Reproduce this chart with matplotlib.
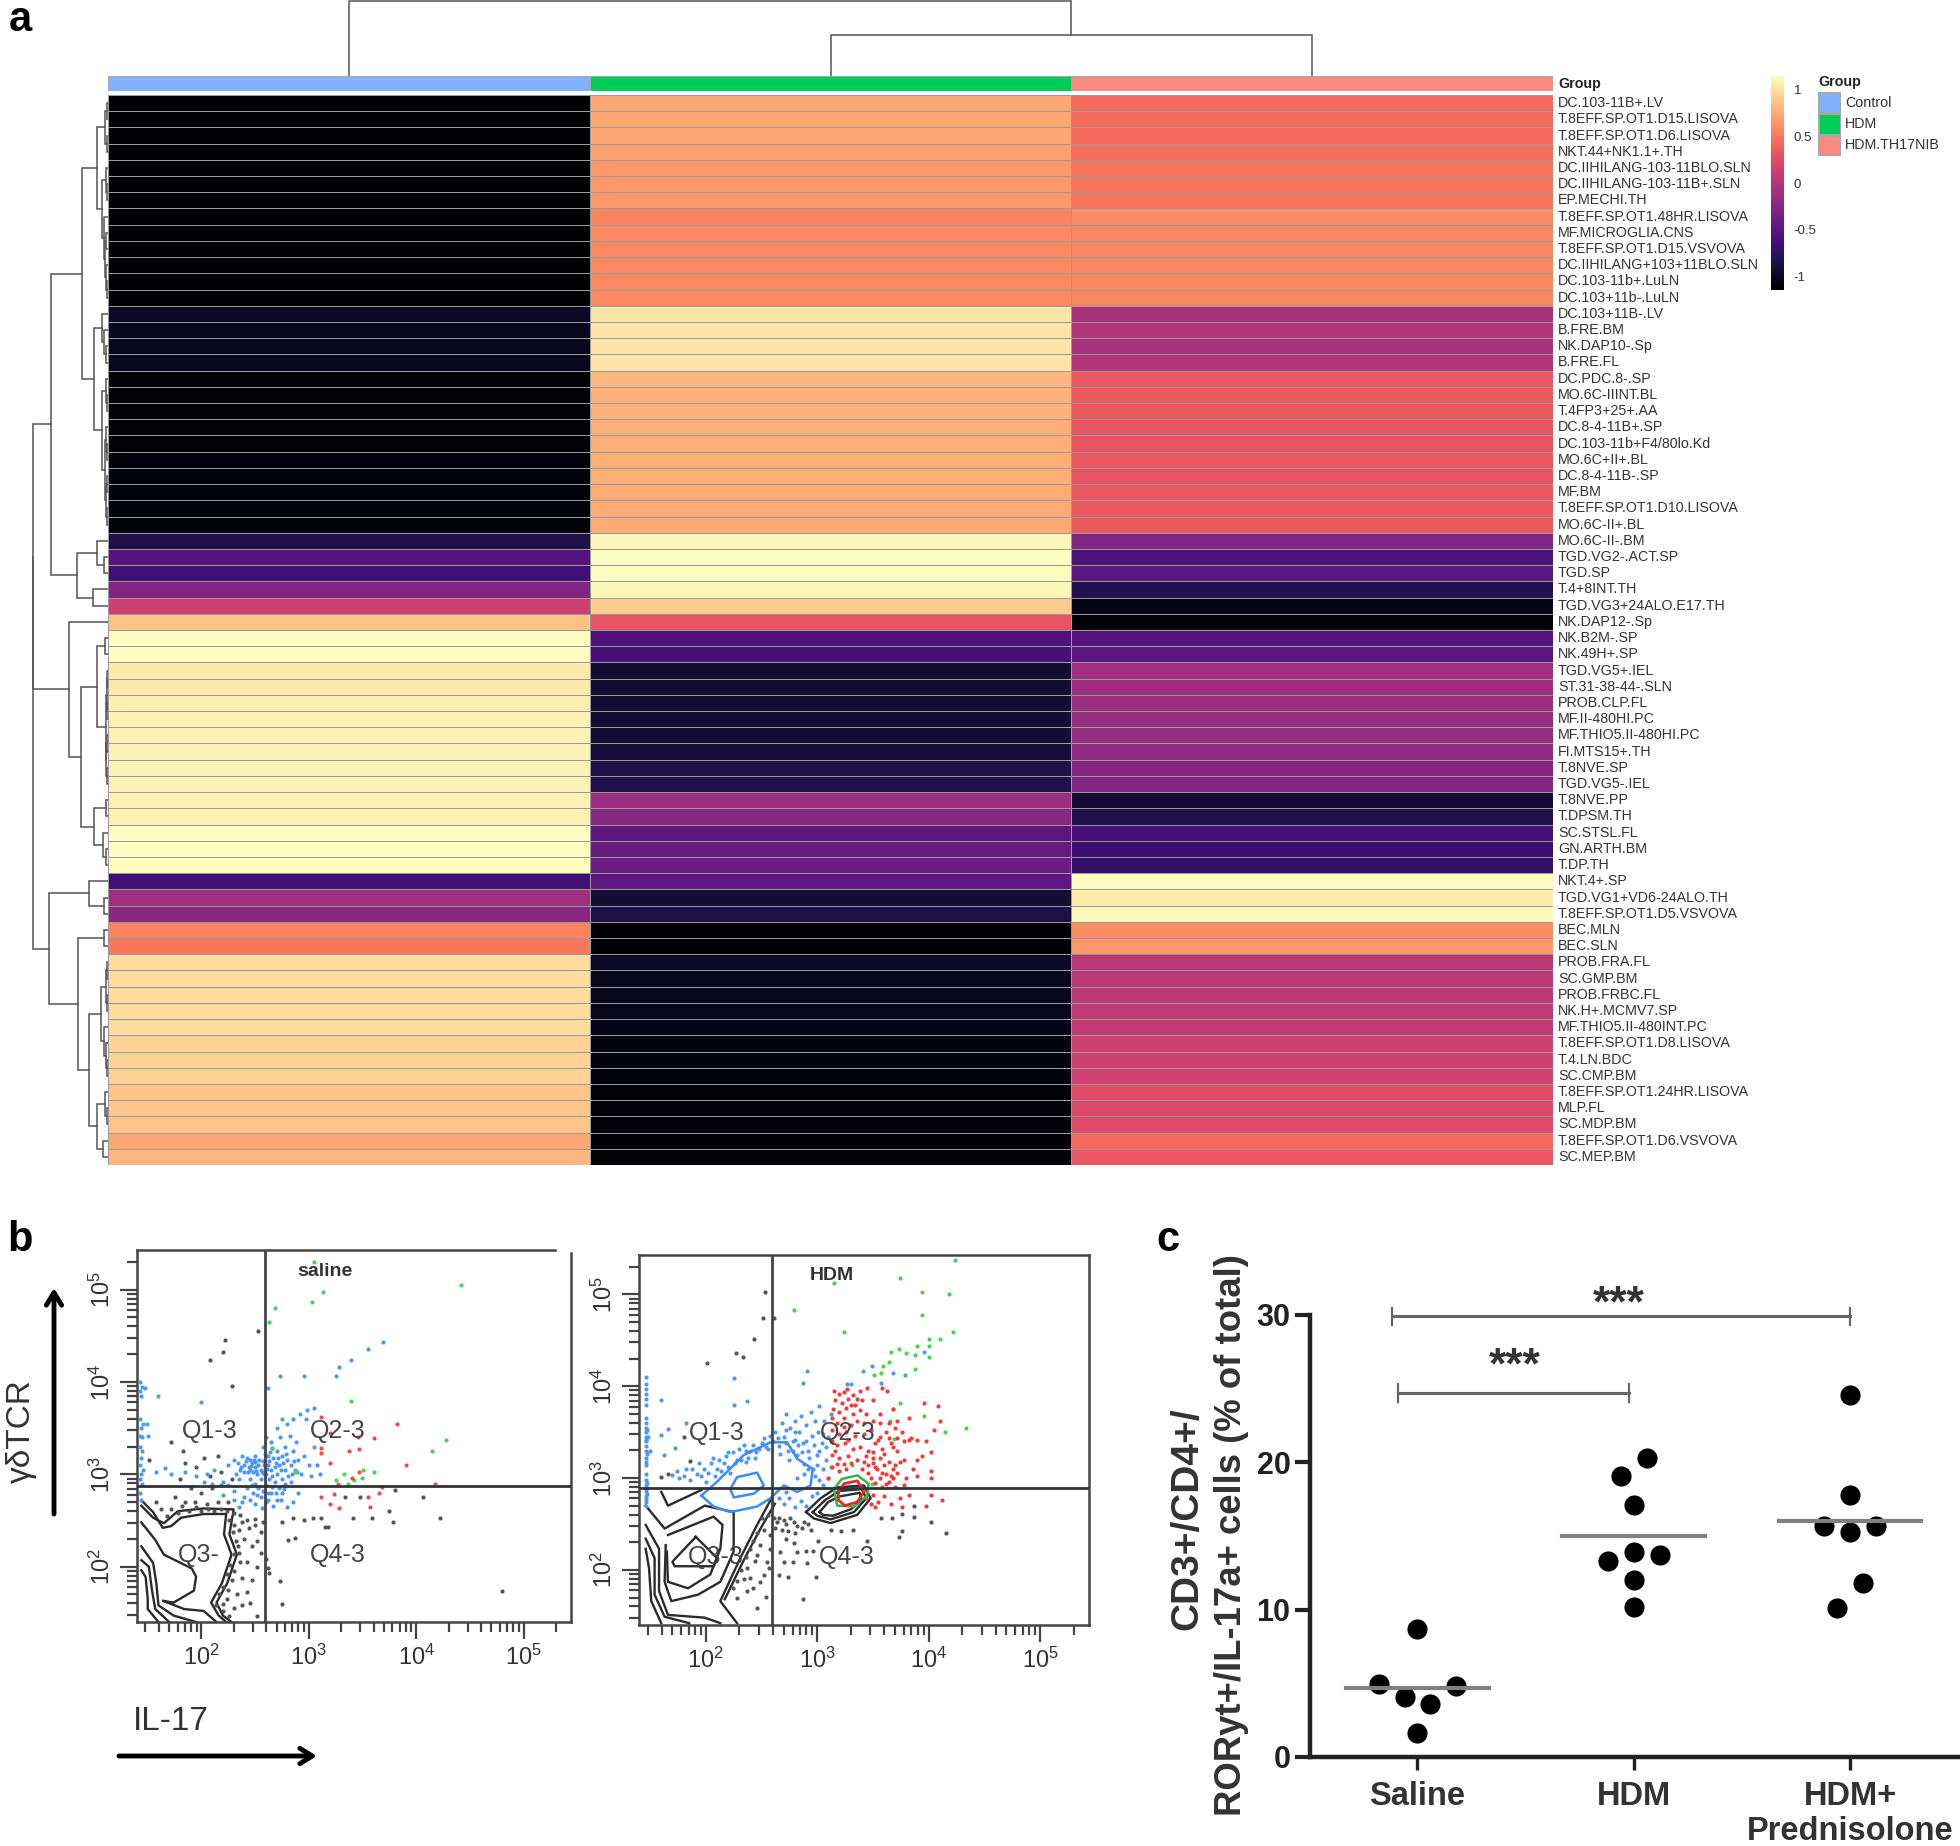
import numpy as np
import matplotlib
matplotlib.use("Agg")
import matplotlib.pyplot as plt
from matplotlib.colors import ListedColormap

plt.rcParams['font.family'] = ['Liberation Sans', 'DejaVu Sans']

W, H = 1960, 1846

# ---- panel a data ----
row_names = ["DC.103-11B+.LV", "T.8EFF.SP.OT1.D15.LISOVA", "T.8EFF.SP.OT1.D6.LISOVA", "NKT.44+NK1.1+.TH",
             "DC.IIHILANG-103-11BLO.SLN", "DC.IIHILANG-103-11B+.SLN", "EP.MECHI.TH", "T.8EFF.SP.OT1.48HR.LISOVA",
             "MF.MICROGLIA.CNS", "T.8EFF.SP.OT1.D15.VSVOVA", "DC.IIHILANG+103+11BLO.SLN", "DC.103-11b+.LuLN",
             "DC.103+11b-.LuLN", "DC.103+11B-.LV", "B.FRE.BM", "NK.DAP10-.Sp", "B.FRE.FL", "DC.PDC.8-.SP",
             "MO.6C-IIINT.BL", "T.4FP3+25+.AA", "DC.8-4-11B+.SP", "DC.103-11b+F4/80lo.Kd", "MO.6C+II+.BL",
             "DC.8-4-11B-.SP", "MF.BM", "T.8EFF.SP.OT1.D10.LISOVA", "MO.6C-II+.BL", "MO.6C-II-.BM",
             "TGD.VG2-.ACT.SP", "TGD.SP", "T.4+8INT.TH", "TGD.VG3+24ALO.E17.TH", "NK.DAP12-.Sp", "NK.B2M-.SP",
             "NK.49H+.SP", "TGD.VG5+.IEL", "ST.31-38-44-.SLN", "PROB.CLP.FL", "MF.II-480HI.PC",
             "MF.THIO5.II-480HI.PC", "FI.MTS15+.TH", "T.8NVE.SP", "TGD.VG5-.IEL", "T.8NVE.PP", "T.DPSM.TH",
             "SC.STSL.FL", "GN.ARTH.BM", "T.DP.TH", "NKT.4+.SP", "TGD.VG1+VD6-24ALO.TH",
             "T.8EFF.SP.OT1.D5.VSVOVA", "BEC.MLN", "BEC.SLN", "PROB.FRA.FL", "SC.GMP.BM", "PROB.FRBC.FL",
             "NK.H+.MCMV7.SP", "MF.THIO5.II-480INT.PC", "T.8EFF.SP.OT1.D8.LISOVA", "T.4.LN.BDC", "SC.CMP.BM",
             "T.8EFF.SP.OT1.24HR.LISOVA", "MLP.FL", "SC.MDP.BM", "T.8EFF.SP.OT1.D6.VSVOVA", "SC.MEP.BM"]

control = [-1.15, -1.15, -1.15, -1.15, -1.15, -1.15, -1.15, -1.15, -1.15, -1.15, -1.15, -1.15, -1.15,
           -0.98, -1.03, -1.03, -1.02, -1.12, -1.12, -1.12, -1.12, -1.12, -1.1, -1.1, -1.1, -1.1, -1.1,
           -0.85, -0.55, -0.65, -0.3, 0.12, 0.85, 1.15, 1.15, 1.05, 1.05, 1.07, 1.08, 1.08, 1.1, 1.1, 1.1,
           1.08, 1.08, 1.15, 1.15, 1.15, -0.65, -0.12, -0.25, 0.55, 0.5, 0.98, 0.98, 0.98, 0.98, 0.98,
           0.93, 0.93, 0.93, 0.87, 0.88, 0.87, 0.72, 0.8]
hdm = [0.72, 0.72, 0.72, 0.7, 0.65, 0.65, 0.65, 0.55, 0.58, 0.58, 0.58, 0.58, 0.58,
       1.03, 1.03, 1.03, 1.03, 0.8, 0.78, 0.78, 0.76, 0.76, 0.76, 0.76, 0.74, 0.74, 0.74,
       1.12, 1.15, 1.15, 1.12, 0.9, 0.3, -0.6, -0.62, -0.93, -0.93, -0.93, -0.92, -0.92, -0.9, -0.85, -0.85,
       -0.15, -0.25, -0.52, -0.45, -0.42, -0.5, -0.92, -0.87, -1.15, -1.15, -1.0, -1.02, -1.02, -1.03, -1.05,
       -1.07, -1.07, -1.08, -1.12, -1.1, -1.11, -1.15, -1.13]
th17nib = [0.43, 0.43, 0.43, 0.45, 0.5, 0.5, 0.5, 0.6, 0.57, 0.57, 0.57, 0.57, 0.57,
           -0.08, -0.02, -0.07, -0.02, 0.32, 0.34, 0.34, 0.3, 0.3, 0.32, 0.3, 0.32, 0.34, 0.34,
           -0.3, -0.6, -0.52, -0.82, -1.05, -1.13, -0.55, -0.52, -0.12, -0.13, -0.14, -0.18, -0.18, -0.2, -0.27, -0.3,
           -0.92, -0.85, -0.62, -0.7, -0.73, 1.15, 1.06, 1.13, 0.6, 0.65, 0.02, 0.04, 0.04, 0.05, 0.07,
           0.14, 0.14, 0.15, 0.25, 0.22, 0.24, 0.43, 0.33]

group_names = ["Control", "HDM", "HDM.TH17NIB"]
group_colors = ["#7fb2ff", "#00cc58", "#fd8a82"]
cbar_ticks = [-1, -0.5, 0, 0.5, 1]

# merge trees: (height in px, child, child), leaves are 1-based row numbers
upper_tree = (56.7,
              (25.7,
               (10.7, (3.3, (1.5, 1, 2), (1.5, 3, 4)),
                (6, (2.3, 5, (1.5, 6, 7)), (4.3, 8, (3, (2.5, 9, 10), (2.5, 11, (1.5, 12, 13)))))),
               (13.7, (5.7, 14, (3.7, 15, (2, 16, 17))),
                (6, (2.5, 18, (1.5, 19, 20)), (3, (2, 21, (1.2, 22, 23)), (2.5, (1.5, 24, 25), (1.5, 26, 27)))))),
              (31, (10.7, 28, (4.3, 29, 30)), (15, 31, 32)))
mid_tree = (39, 33,
            (26.7,
             (10.7, (3.3, 34, 35),
              (2.5, (1.5, (1, 36, 37), (1, 38, 39)), (2, (1, 40, 41), (1.2, 42, 43)))),
             (13.7, (2.3, 44, 45), (5, 46, (2.3, 47, 48)))))
lower_tree = (59.3,
              (19.3, 49, (4.3, 50, 51)),
              (29.7, (4.3, 52, 53),
               (19.3,
                (7.3, (2.3, (1.5, 54, 55), (1.5, 56, 57)), (3.7, 58, (2, 59, (1.2, 60, 61)))),
                (10.7, (3, 62, (1.5, 63, 64)), (5, 65, 66)))))
row_tree = (75.5, (75, upper_tree, mid_tree), lower_tree)
col_tree = (75, 1, (41, 2, 3))

# ---- panel b data, (log10 IL-17, log10 gdTCR) ----
sal_blue = [(1.43,4.0),(1.45,3.95),(1.43,3.9),(1.47,3.93),(1.44,3.85),(1.43,3.6),(1.46,3.55),(1.44,3.5),(1.49,3.55),
            (1.43,3.42),(1.45,3.4),(1.5,3.42),(1.43,3.3),(1.45,3.25),(1.44,3.18),(1.43,3.1),(1.46,3.05),(1.44,3.0),
            (1.43,2.95),(1.45,2.9),(1.43,2.8),(1.44,2.72),(1.6,3.85),(2.0,3.78),(1.66,3.07),(1.58,3.03),(1.72,3.0),
            (1.85,3.02),(1.95,2.98),(2.05,3.0),(2.12,3.05),(2.2,2.92),(2.25,3.1),(2.3,3.15),(2.32,3.0),(2.35,2.95),
            (2.38,3.2),(2.4,3.1),(2.4,3.02),(2.42,3.18),(2.45,3.15),(2.45,3.05),(2.45,2.95),(2.47,3.12),(2.48,3.02),
            (2.5,3.2),(2.5,3.08),(2.5,2.9),(2.52,3.0),(2.54,3.15),(2.55,3.05),(2.55,2.95),(2.57,3.3),(2.58,3.1),
            (2.6,3.0),(2.6,3.4),(2.62,3.2),(2.62,3.1),(2.63,2.95),(2.65,3.35),(2.65,3.05),(2.67,3.18),(2.68,2.92),
            (2.7,3.5),(2.7,3.25),(2.7,3.0),(2.72,3.1),(2.73,3.4),(2.75,3.6),(2.75,3.2),(2.75,2.95),(2.78,3.3),
            (2.78,3.05),(2.8,3.15),(2.8,3.55),(2.82,3.42),(2.83,2.92),(2.85,3.25),(2.85,3.6),(2.87,3.05),(2.88,3.35),
            (2.9,3.15),(2.9,2.8),(2.92,3.65),(2.93,3.0),(2.95,3.2),(2.97,3.6),(2.98,3.7),(3.0,3.1),(3.02,2.98),
            (3.05,3.72),(3.05,3.3),(3.08,3.1),(3.1,3.0),(2.48,2.8),(2.55,2.75),(2.6,2.7),(2.65,2.8),(2.7,2.72),
            (2.75,2.8),(2.8,2.65),(2.85,2.7),(2.4,2.75),(2.3,2.82),(2.2,2.78),(2.35,2.65),(2.62,3.94),(2.73,4.06),
            (2.95,4.06),(3.25,4.06),(3.28,4.16),(3.39,4.24),(3.55,4.36),(3.69,4.43),(2.58,3.0),(2.44,3.08),(2.36,3.05),
            (2.68,3.08),(2.6,2.88),(2.72,2.85),(2.42,2.85),(2.52,2.78),(2.66,3.28),(2.78,2.9),(2.84,3.0),(2.5,3.13),
            (2.34,3.12),(2.37,3.08),(2.41,3.14),(2.43,3.02),(2.46,3.09),(2.49,3.16),(2.51,3.04),(2.53,3.1),(2.56,3.02),
            (2.57,3.14),(2.59,3.22),(2.61,3.06),(2.63,3.14),(2.64,3.24),(2.66,2.98),(2.69,3.12),(2.71,3.18),(2.74,3.05),
            (2.76,3.12),(2.79,3.22),(2.81,2.98),(2.83,3.1),(2.86,3.14),(2.89,3.02),(2.47,2.88),(2.53,2.85),(2.57,2.82),
            (2.62,2.8),(2.66,2.86),(2.69,2.8),(2.74,2.72),(2.77,2.84),(2.3,2.72),(2.38,2.7),(2.45,2.72),(2.5,2.68),
            (2.56,2.64),(2.62,2.72),(2.67,2.66),(2.25,2.88),(2.18,2.88),(2.1,2.9),(2.02,2.92)]
sal_green = [(4.42,5.05),(3.13,4.97),(3.03,4.87),(3.05,5.3),(2.68,4.8),(2.63,4.65),(3.39,3.79),(4.28,3.37),(4.15,3.25),
             (3.61,3.02),(3.5,3.05),(3.49,2.96),(3.42,2.94),(3.33,3.0),(3.25,2.94),(3.36,2.89),(2.87,3.02),(2.66,3.29)]
sal_red = [(3.11,3.62),(3.2,3.45),(3.82,3.54),(3.61,3.39),(3.46,3.4),(3.47,3.27),(3.37,3.25),(3.11,3.23),(3.11,3.29),
           (3.2,3.12),(3.9,3.1),(3.47,3.02),(3.4,2.96),(4.17,2.89),(3.27,2.89),(3.68,2.86),(3.65,2.8),(3.55,2.75),
           (3.57,2.65),(3.28,2.64),(3.2,2.68),(3.23,2.79),(3.11,2.75)]
sal_black = [(2.53,4.55),(2.22,4.46),(2.2,4.33),(2.08,4.24),(2.28,3.96),(1.72,3.35),(1.83,3.25),(1.51,3.15),(4.8,1.74),
             (4.22,2.53),(4.06,2.75),(3.8,2.83),(3.78,2.48),(3.75,2.6),(3.59,2.53),(3.41,2.53),(3.48,2.75),(3.34,2.75),
             (3.18,2.43),(3.15,2.43),(3.11,2.53),(3.04,2.53),(2.95,2.5),(2.85,2.53),(2.75,2.48),(2.87,2.31),(2.81,2.29),
             (2.75,1.59),(2.73,1.84),(2.63,1.93),(2.52,1.47),(2.45,1.61),(2.3,2.45),(2.35,2.4),(2.42,2.5),(2.5,2.45),
             (2.55,2.38),(2.4,2.3),(2.47,2.22),(2.55,2.15),(2.35,2.15),(2.42,2.05),(2.52,2.0),(2.3,1.95),(2.38,1.88),
             (2.47,1.85),(2.25,1.75),(2.33,1.7),(2.42,1.72),(2.2,1.6),(2.3,1.55),(2.38,1.58),(2.6,2.08),(2.62,1.98),
             (1.85,3.12),(1.95,3.08),(2.02,3.18),(2.08,2.98),(2.15,3.2),(2.18,3.02),(2.28,2.95),(1.8,2.95),(1.9,2.85),
             (2.0,2.8),(2.1,2.85),(2.15,2.7),(2.25,2.7),(1.75,2.75),(1.85,2.7),(1.95,2.65),(2.05,2.68),
             (1.58,2.7),(1.62,2.62),(1.68,2.55),(1.72,2.62),(1.78,2.58),(1.82,2.66),(1.88,2.6),(1.94,2.7),(2.0,2.6),
             (2.06,2.62),(2.12,2.6),(2.18,2.62),(2.24,2.6),(2.3,2.58),(2.36,2.56),(2.26,2.5),(2.29,2.38),(2.32,2.28),
             (2.34,2.22),(2.3,2.14),(2.36,2.05),(2.27,2.02),(2.24,1.92),(2.28,1.85),(2.2,1.78),(2.16,1.7),(2.24,1.65),
             (2.14,1.58),(2.2,1.52),(2.26,1.46),(2.44,2.42),(2.38,2.48),(2.5,2.52),(2.57,2.48),(2.52,2.28)]

sal_contours = [[(1.44,2.72),(1.55,2.59),(1.64,2.42),(1.72,2.44),(1.81,2.53),(2.02,2.57),(2.23,2.57),(2.21,2.35),
                 (2.28,2.13),(2.19,1.82),(2.09,1.61),(2.16,1.47),(2.23,1.40)],
                [(1.44,2.66),(1.55,2.53),(1.65,2.47),(1.78,2.6),(2.02,2.63),(2.3,2.62),(2.26,2.35),(2.33,2.13),
                 (2.24,1.82),(2.14,1.61),(2.2,1.47),(2.28,1.40)],
                [(1.44,2.48),(1.57,2.29),(1.65,2.13),(1.91,1.98),(1.95,1.89),(1.93,1.74),(1.74,1.61),(1.64,1.63),
                 (1.84,1.54),(2.02,1.52),(2.14,1.40)],
                [(1.44,2.22),(1.55,2.04),(1.58,1.82),(1.6,1.58),(1.74,1.47),(1.95,1.40)],
                [(1.44,2.07),(1.51,2.0),(1.54,1.74),(1.57,1.54),(1.7,1.4)],
                [(1.44,1.96),(1.48,1.89),(1.5,1.65),(1.5,1.54),(1.6,1.4)]]

hdm_blue = [(1.46,4.1),(1.46,4.03),(1.46,3.97),(1.46,3.92),(1.46,3.86),(1.46,3.8),(1.46,3.66),(1.46,3.6),(1.46,3.55),
            (1.46,3.5),(1.46,3.45),(1.46,3.4),(1.46,3.35),(1.46,3.3),(1.46,3.22),(1.46,3.14),(1.46,3.05),(1.46,2.98),
            (1.46,2.92),(1.46,2.86),(1.46,2.8),(1.46,2.74),(1.48,3.45),(1.5,3.3),
            (2.25,4.09),(2.25,3.8),(2.37,3.84),(1.6,3.85),(1.82,3.6),(1.66,3.53),(1.6,3.47),(1.72,3.33),(1.62,3.25),
            (1.7,3.03),(1.76,3.0),(1.82,3.1),(1.86,2.98),(1.92,3.04),(1.98,3.1),(2.0,2.96),(2.05,3.16),(2.08,3.02),
            (2.12,3.2),(2.14,3.08),(2.18,3.24),(2.2,3.12),(2.24,3.28),(2.26,3.16),(2.3,3.32),(2.32,3.2),(2.36,3.3),
            (2.38,3.22),(2.42,3.36),(2.45,3.28),(2.5,3.38),(2.54,3.34),(2.6,3.4),(2.62,3.5),(2.66,3.35),(2.68,3.6),
            (2.7,3.45),(2.72,3.7),(2.74,3.3),(2.76,3.55),(2.78,3.4),(2.8,3.62),(2.82,3.25),(2.84,3.5),(2.85,3.68),
            (2.87,3.38),(2.88,3.15),(2.9,3.58),(2.92,3.3),(2.94,3.72),(2.95,3.46),(2.96,3.1),(2.98,3.62),(3.0,3.25),
            (3.01,3.5),(3.02,3.78),(3.04,3.38),(3.05,3.1),(3.06,3.62),(3.08,3.2),(3.1,3.45),(3.1,3.0),(3.12,3.7),
            (2.82,3.0),(2.88,3.05),(2.92,3.1),(2.98,3.02),(3.02,2.98),(3.05,2.92),(2.7,2.72),(2.75,2.78),(2.8,2.68),
            (2.85,2.75),(2.9,2.7),(2.95,2.8),(2.66,2.78),(2.72,2.85),(3.0,2.84),(2.91,4.17),(2.87,4.04),(3.3,4.03),
            (3.41,4.17),(3.49,4.22),(3.68,4.15),(3.79,4.12),(3.57,4.04),(3.96,4.37),(3.27,4.02),(2.72,3.52),(2.8,3.5),
            (1.74,3.08),(1.8,3.02),(1.88,3.1),(1.94,3.16),(1.96,3.02),(2.02,3.06),(2.06,3.22),(2.1,3.1),(2.16,3.16),
            (2.2,3.28),(2.22,3.06),(2.28,3.2),(2.34,3.36),(2.36,3.18),(2.4,3.3),(2.44,3.22),(2.48,3.32),(2.52,3.44),
            (2.56,3.32),(2.58,3.46),(2.65,3.44),(2.67,3.26),(2.72,3.38),(2.75,3.2),(2.78,3.3),(2.8,3.42),(2.83,3.36),
            (2.86,3.28),(2.9,3.4),(2.93,3.22),(2.97,3.36),(3.0,3.14),(3.02,3.3),(3.05,3.48),(3.08,3.34),(3.12,3.12),
            (1.46,2.7),(1.46,2.77),(1.47,2.83),(1.47,2.89),(1.47,2.95),(1.46,3.18),(1.47,3.26),(1.46,3.42),(1.47,3.52)]
hdm_green = [(3.15,5.13),(3.74,5.18),(4.24,5.38),(3.94,5.03),(4.18,5.01),(2.79,4.83),(3.24,4.59),(3.94,4.78),(4.22,4.59),
             (4.1,4.52),(4.0,4.52),(4.0,4.44),(3.9,4.44),(3.73,4.41),(3.66,4.37),(3.8,4.36),(3.88,4.34),(4.0,4.32),
             (3.64,4.27),(3.59,4.22),(3.88,4.19),(3.57,4.15),(3.51,4.12),(3.74,3.82),(3.68,3.75),(3.96,3.68),(3.65,3.62),
             (4.34,3.55),(4.15,3.5),(3.69,3.43),(3.31,3.14),(3.49,2.94)]
hdm_red = [(3.15,3.95),(3.2,3.92),(3.27,3.97),(3.32,3.9),(3.38,3.95),(3.45,3.98),(3.16,3.85),(3.22,3.82),(3.28,3.86),
           (3.34,3.8),(3.4,3.85),(3.5,3.85),(3.58,3.98),(3.63,3.95),(3.14,3.75),(3.2,3.72),(3.26,3.76),(3.32,3.7),
           (3.38,3.74),(3.44,3.7),(3.56,3.7),(3.68,3.75),(3.96,3.82),(4.08,3.78),(3.13,3.65),(3.18,3.6),(3.24,3.65),
           (3.3,3.58),(3.36,3.62),(3.5,3.62),(3.56,3.6),(3.64,3.6),(3.72,3.62),(3.82,3.66),(4.1,3.62),(4.05,3.52),
           (3.13,3.52),(3.2,3.48),(3.26,3.5),(3.34,3.46),(3.42,3.48),(3.48,3.52),(3.56,3.45),(3.62,3.5),(3.7,3.55),
           (3.76,3.5),(3.82,3.42),(3.9,3.42),(3.98,3.4),(3.13,3.4),(3.18,3.36),(3.25,3.38),(3.32,3.32),(3.38,3.34),
           (3.46,3.3),(3.52,3.38),(3.58,3.32),(3.66,3.38),(3.72,3.3),(3.78,3.4),(4.02,3.28),(3.94,3.24),(3.9,3.2),
           (3.13,3.25),(3.2,3.22),(3.28,3.24),(3.36,3.2),(3.44,3.24),(3.5,3.16),(3.56,3.22),(3.64,3.18),(3.7,3.14),
           (3.78,3.2),(3.86,3.1),(4.02,3.08),(3.13,3.12),(3.2,3.08),(3.26,3.1),(3.4,3.1),(3.46,3.06),(3.52,3.12),
           (3.58,3.06),(3.66,3.02),(3.72,3.06),(3.8,3.0),(3.9,3.02),(4.02,3.0),(3.52,2.95),(3.58,2.9),(3.64,2.96),
           (3.7,2.9),(3.78,2.92),(3.5,2.82),(3.55,2.74),(3.6,2.8),(3.66,2.72),(3.74,2.78),(3.76,2.68),(3.82,2.82),
           (3.98,2.7),(4.02,2.82),(4.12,2.76),(3.48,2.72),(3.52,2.68),(3.44,2.78),(3.1,3.0),(3.18,3.15),(3.68,3.34),
           (3.42,3.18),(3.46,3.14),(3.5,3.22),(3.54,3.1),(3.6,3.14),(3.62,3.04),(3.68,3.1),(3.74,3.18),(3.48,3.0),
           (3.56,3.0),(3.62,2.94),(3.68,3.0),(3.5,3.28),(3.6,3.26),(3.55,3.42),(3.64,3.44),(3.72,3.44),(3.84,3.44),
           (3.24,3.94),(3.3,3.8),(3.36,3.86),(3.24,3.56),(3.42,3.6),(3.28,3.42),(3.16,3.3),(3.24,3.15),(3.3,3.16)]
hdm_black = [(2.53,5.03),(2.51,4.74),(2.61,4.74),(2.43,4.52),(2.27,4.36),(2.33,4.32),(2.01,4.25),(1.8,3.45),(1.86,3.19),
             (1.66,3.05),(1.6,3.01),(4.16,2.4),(4.02,2.52),(3.87,2.58),(3.87,2.7),(3.76,2.61),(3.76,2.42),(3.73,2.36),
             (3.67,2.56),(3.57,2.56),(3.45,2.31),(3.32,2.44),(3.21,2.42),(3.12,2.43),(3.01,2.32),(2.94,2.43),(2.88,2.52),
             (2.79,2.52),(2.7,2.54),(2.64,2.52),(2.79,2.29),(2.9,2.21),(2.96,2.21),(2.82,2.2),(2.67,2.2),(2.7,2.09),
             (2.78,2.09),(2.91,2.07),(2.66,1.95),(2.74,1.92),(2.99,1.92),(2.87,1.68),(2.52,1.95),(2.49,1.87),(2.54,1.71),
             (2.46,1.58),(2.4,1.91),(2.37,2.02),(2.46,2.16),(2.55,2.09),(2.49,2.27),(2.58,2.38),(2.61,2.56),(2.52,2.43),
             (2.4,2.23),(2.37,1.77),(2.28,1.69),(2.57,2.02),(2.58,2.23),
             (2.66,2.56),(2.72,2.5),(2.76,2.56),(2.82,2.48),(2.86,2.46),(2.92,2.5),(2.68,2.44),(2.74,2.42),(2.8,2.4),
             (2.72,2.34),(2.62,2.46),(2.56,2.6),(2.5,2.56),(2.46,2.4),(2.42,2.32),(2.44,2.1),(2.36,2.14),(2.32,2.0),
             (2.28,1.88),(2.24,1.8),(2.42,1.8),(2.34,1.9)]

hdm_contours_black = [[(2.59,2.78),(2.46,2.49),(2.31,2.13),(2.13,1.66),(2.28,1.42)],
                      [(2.62,2.72),(2.5,2.47),(2.35,2.13),(2.17,1.68)],
                      [(1.6,2.85),(1.66,2.7),(1.96,2.87)],
                      [(1.46,2.7),(1.63,2.45),(1.99,2.7),(2.25,2.63),(2.25,2.2),(2.13,1.87),(1.93,1.73),(1.69,1.66),
                       (1.63,1.87),(1.64,2.27)],
                      [(1.66,2.38),(2.07,2.58),(2.15,2.49),(2.13,2.23),(2.04,1.95),(1.84,1.8),(1.66,1.87),(1.65,2.2)],
                      [(1.91,2.36),(1.7,2.09),(1.72,2.04),(2.07,2.04),(2.1,2.13),(1.91,2.36)],
                      [(1.46,2.49),(1.58,2.23),(1.58,1.77),(1.66,1.51),(1.99,1.48),(2.13,1.42)],
                      [(1.46,2.34),(1.54,2.13),(1.54,1.73),(1.63,1.49),(1.85,1.42)],
                      [(1.46,2.23),(1.49,2.02),(1.51,1.66),(1.6,1.42)],
                      [(2.9,2.63),(3.03,2.78),(3.18,2.9),(3.42,2.92),(3.48,2.78),(3.36,2.6),(3.12,2.51),(2.97,2.56),(2.9,2.63)],
                      [(2.96,2.63),(3.07,2.76),(3.2,2.86),(3.4,2.88),(3.44,2.78),(3.33,2.63),(3.12,2.55),(3.0,2.59),(2.96,2.63)],
                      [(3.02,2.63),(3.1,2.74),(3.2,2.8),(3.38,2.84),(3.4,2.76),(3.3,2.66),(3.14,2.59),(3.05,2.6),(3.02,2.63)]]
hdm_contours_blue = [[(1.96,2.81),(2.07,2.69),(2.22,2.63),(2.46,2.69),(2.58,2.78),(2.7,2.92),(2.82,2.85),(2.94,2.92),
                      (2.96,3.1),(2.82,3.21),(2.73,3.39),(2.58,3.39),(2.34,3.25),(2.1,2.96),(1.96,2.81)],
                     [(2.22,2.88),(2.28,3.01),(2.46,3.06),(2.52,2.92),(2.43,2.83),(2.25,2.79),(2.22,2.88)]]
hdm_contour_green = [(3.15,2.88),(3.22,2.99),(3.36,3.03),(3.46,2.94),(3.45,2.81),(3.33,2.69),(3.18,2.7),(3.15,2.88)]
hdm_contour_red = [(3.19,2.85),(3.24,2.94),(3.36,2.97),(3.42,2.85),(3.36,2.74),(3.25,2.7),(3.19,2.76),(3.19,2.85)]

sal_gate = (2.59, 2.87)
hdm_gate = (2.59, 2.89)
decades = [2, 3, 4, 5]
sal_labels = [("Q1-3", 2.08, 3.47), ("Q2-3", 3.27, 3.47), ("Q3-", 1.98, 2.13), ("Q4-3", 3.27, 2.13)]
hdm_labels = [("Q1-3", 2.1, 3.49), ("Q2-3", 3.27, 3.49), ("Q3-3", 2.09, 2.14), ("Q4-3", 3.27, 2.14)]

# ---- panel c data ----
groups_c = ["Saline", "HDM", "HDM+\nPrednisolone"]
saline_x = [1.0, 0.82, 1.18, 0.94, 1.06, 1.0]
saline_y = [8.7, 4.97, 4.84, 4.04, 3.6, 1.6]
hdmc_x = [2.06, 1.94, 2.0, 2.0, 1.88, 2.12, 2.0, 2.0]
hdmc_y = [20.3, 19.1, 17.1, 13.9, 13.3, 13.7, 12.0, 10.2]
pred_x = [3.0, 3.0, 2.88, 3.12, 3.0, 3.06, 2.94]
pred_y = [24.6, 17.8, 15.7, 15.7, 15.3, 11.8, 10.1]
medians = [4.7, 15.0, 16.0]
brackets = [(0.88, 3.0, 29.9), (0.91, 1.98, 24.7)]


def axpx(x0, y0, x1, y1):
    # axes from pixel box, y measured from the top of the image
    return fig.add_axes([x0 / W, 1 - y1 / H, (x1 - x0) / W, (y1 - y0) / H])


def figtext(x, y, s, **kw):
    fig.text(x / W, 1 - y / H, s, **kw)


def draw_tree(ax, node, pos, horizontal):
    # leaves sit at height 0, every merge draws a square bracket
    if isinstance(node, int):
        return pos(node), 0
    h, a, b = node
    pa, ha = draw_tree(ax, a, pos, horizontal)
    pb, hb = draw_tree(ax, b, pos, horizontal)
    hs = [ha, h, h, hb]
    ps = [pa, pa, pb, pb]
    if horizontal:
        ax.plot(hs, ps, color="#555555", lw=1.1, solid_joinstyle="miter")
    else:
        ax.plot(ps, hs, color="#555555", lw=1.1, solid_joinstyle="miter")
    return (pa + pb) / 2, h


def facs_panel(ax, gate, contours):
    ax.set_xscale("log")
    ax.set_yscale("log")
    ax.set_xlim(10 ** 1.40, 10 ** 5.44)
    ax.set_ylim(10 ** 1.40, 10 ** 5.43)
    for side in ax.spines.values():
        side.set_color("#444444")
        side.set_linewidth(1.8)
    for c in contours:
        c = np.array(c)
        ax.plot(10 ** c[:, 0], 10 ** c[:, 1], color="#2b2b2b", lw=1.7, zorder=2)
    ax.axvline(10 ** gate[0], color="#444444", lw=2, zorder=4)
    ax.axhline(10 ** gate[1], color="#333333", lw=2, zorder=4)
    major = [10.0 ** d for d in decades]
    minor = [m * 10.0 ** e for e in [1, 2, 3, 4, 5] for m in range(2, 10)]
    labels = [r"$\mathregular{10^{%d}}$" % d for d in decades]
    ax.xaxis.set_major_locator(matplotlib.ticker.FixedLocator(major))
    ax.yaxis.set_major_locator(matplotlib.ticker.FixedLocator(major))
    ax.xaxis.set_minor_locator(matplotlib.ticker.FixedLocator(minor))
    ax.yaxis.set_minor_locator(matplotlib.ticker.FixedLocator(minor))
    ax.xaxis.set_minor_formatter(matplotlib.ticker.NullFormatter())
    ax.yaxis.set_minor_formatter(matplotlib.ticker.NullFormatter())
    ax.set_xticklabels(labels)
    ax.set_yticklabels(labels, rotation=90, va="center")
    ax.tick_params(which="major", length=12, width=1.6, color="#444444", labelsize=17, labelcolor="#333333", pad=4)
    ax.tick_params(which="minor", length=7, width=1.6, color="#444444")


def dots(ax, pts, color):
    pts = np.array(pts)
    ax.plot(10 ** pts[:, 0], 10 ** pts[:, 1], ls="none", marker="o", ms=3.0, mew=0, color=color, zorder=3)


fig = plt.figure(figsize=(W / 100, H / 100), dpi=100)

# ---- panel a ----
ax = axpx(108, 95, 1553, 1165)
vals = np.column_stack([control, hdm, th17nib])
ax.pcolormesh(np.arange(4), np.arange(len(row_names) + 1), vals, cmap="magma", vmin=-1.15, vmax=1.15,
              edgecolors="#9a9a9a", linewidth=0.7)
ax.set_ylim(len(row_names), 0)
ax.axis("off")
for i, name in enumerate(row_names):
    ax.annotate(name, (1, i + 0.5), xycoords=("axes fraction", "data"), xytext=(3.5, 0), textcoords="offset points",
                va="center", ha="left", fontsize=10.3, color="#333333")

ax = axpx(108, 76, 1553, 91)
ax.pcolormesh(np.arange(4), [0, 1], [[0, 1, 2]], cmap=ListedColormap(group_colors), edgecolors="#a8a8a8", linewidth=0.6)
ax.axis("off")
figtext(1558, 84, "Group", fontsize=10.3, fontweight="bold", va="center", color="#222222")

ax = axpx(108, 0, 1553, 76)
draw_tree(ax, col_tree, lambda n: n - 0.5, False)
ax.set_xlim(0, 3)
ax.set_ylim(0, 76)
ax.axis("off")

ax = axpx(0, 95, 108, 1165)
draw_tree(ax, row_tree, lambda n: n - 0.5, True)
ax.set_xlim(108, 0)
ax.set_ylim(len(row_names), 0)
ax.axis("off")

cax = axpx(1771, 76, 1784, 290)
cax.imshow(np.linspace(1.15, -1.15, 256)[:, None], cmap="magma", vmin=-1.15, vmax=1.15, aspect="auto",
           extent=[0, 1, -1.15, 1.15])
cax.set_xticks([])
cax.yaxis.tick_right()
cax.set_yticks(cbar_ticks)
cax.set_yticklabels(["-1", "-0.5", "0", "0.5", "1"])
cax.tick_params(length=0, labelsize=9.5, labelcolor="#333333", pad=7)
for side in cax.spines.values():
    side.set_visible(False)

figtext(1818, 82, "Group", fontsize=10.3, fontweight="bold", va="center", color="#222222")
lax = axpx(1818, 92, 1841, 156)
lax.pcolormesh([0, 1], np.arange(4), [[0], [1], [2]], cmap=ListedColormap(group_colors), edgecolors="#a8a8a8", linewidth=0.8)
lax.set_ylim(3, 0)
lax.axis("off")
for i, g in enumerate(group_names):
    lax.annotate(g, (1, i + 0.5), xycoords=("axes fraction", "data"), xytext=(3, 0), textcoords="offset points",
                 va="center", fontsize=10.3, color="#333333")

# ---- panel b ----
ax = axpx(137, 1250, 571, 1622)
facs_panel(ax, sal_gate, sal_contours)
dots(ax, sal_black, "#555555")
dots(ax, sal_blue, "#4f97f7")
dots(ax, sal_green, "#45d64f")
dots(ax, sal_red, "#f4494c")
ax.spines["top"].set_bounds(10 ** 1.40, 10 ** 5.29)
ax.spines["right"].set_bounds(10 ** 1.40, 10 ** 5.4)
for s, lx, ly in sal_labels:
    ax.text(10 ** lx, 10 ** ly, s, fontsize=18, ha="center", va="center", color="#444444", zorder=5)
ax.text(10 ** 3.15, 10 ** 5.2, "saline", fontsize=14, fontweight="bold", ha="center", va="center", color="#333333")

ax = axpx(639, 1255, 1089, 1625)
facs_panel(ax, hdm_gate, hdm_contours_black)
dots(ax, hdm_black, "#555555")
dots(ax, hdm_blue, "#4f97f7")
dots(ax, hdm_green, "#45d64f")
dots(ax, hdm_red, "#f4393c")
for c in hdm_contours_blue:
    c = np.array(c)
    ax.plot(10 ** c[:, 0], 10 ** c[:, 1], color="#3d8bf5", lw=1.8, zorder=3)
c = np.array(hdm_contour_green)
ax.plot(10 ** c[:, 0], 10 ** c[:, 1], color="#2fb84a", lw=1.8, zorder=3)
c = np.array(hdm_contour_red)
ax.plot(10 ** c[:, 0], 10 ** c[:, 1], color="#ee2233", lw=2.0, zorder=3)
for s, lx, ly in hdm_labels:
    ax.text(10 ** lx, 10 ** ly, s, fontsize=18, ha="center", va="center", color="#444444", zorder=5)
ax.text(10 ** 3.13, 10 ** 5.21, "HDM", fontsize=14, fontweight="bold", ha="center", va="center", color="#333333")

# big arrows and axis names of panel b
over = axpx(0, 0, W, H)
over.set_xlim(0, W)
over.set_ylim(H, 0)
over.axis("off")
over.patch.set_alpha(0)
over.annotate("", xy=(54, 1288), xytext=(54, 1514),
              arrowprops=dict(arrowstyle="->,head_length=0.9,head_width=0.55", lw=3.5, color="black", shrinkA=0, shrinkB=0))
over.annotate("", xy=(317, 1756), xytext=(119, 1756),
              arrowprops=dict(arrowstyle="->,head_length=0.9,head_width=0.55", lw=3.5, color="black", shrinkA=0, shrinkB=0))
over.text(21, 1431, "\u03b3\u03b4TCR", rotation=90, fontsize=24, ha="center", va="center", color="#333333")
over.text(171, 1721, "IL-17", fontsize=24, ha="center", va="center", color="#333333")

# ---- panel c ----
ax = axpx(1310, 1315, 1959, 1757)
ax.set_xlim(0.503, 3.504)
ax.set_ylim(0, 30)
ax.spines["top"].set_visible(False)
ax.spines["right"].set_visible(False)
ax.spines["left"].set_linewidth(3.2)
ax.spines["bottom"].set_linewidth(3.2)
ax.spines["left"].set_color("#222222")
ax.spines["bottom"].set_color("#222222")
for xs, ys in [(saline_x, saline_y), (hdmc_x, hdmc_y), (pred_x, pred_y)]:
    ax.plot(xs, ys, ls="none", marker="o", ms=14.5, mew=0, color="black", clip_on=False, zorder=3)
for i, m in enumerate(medians):
    ax.plot([i + 1 - 0.33, i + 1 + 0.33], [m, m], color="#808080", lw=3, zorder=4)
for x0, x1, y in brackets:
    ax.plot([x0, x1], [y, y], color="#666666", lw=2.2, zorder=2, clip_on=False)
    ax.plot([x0, x0], [y - 0.6, y + 0.6], color="#666666", lw=1.6, clip_on=False)
    ax.plot([x1, x1], [y - 0.6, y + 0.6], color="#666666", lw=1.6, clip_on=False)
ax.text(1.93, 30.7, "***", fontsize=32, fontweight="bold", ha="center", va="center", color="#333333", clip_on=False)
ax.text(1.45, 26.45, "***", fontsize=32, fontweight="bold", ha="center", va="center", color="#333333")
ax.set_xticks([1, 2, 3])
ax.set_xticklabels(groups_c, fontsize=23.5, fontweight="bold", color="#333333", linespacing=1.2)
ax.set_yticks([0, 10, 20, 30])
ax.set_yticklabels(["0", "10", "20", "30"], fontsize=22, fontweight="bold", color="#222222")
ax.tick_params(axis="x", length=9, width=2.4, color="#222222", pad=8)
ax.tick_params(axis="y", length=11, width=3, color="#222222", pad=3)
over.text(1187, 1519, "CD3+/CD4+/", rotation=90, fontsize=28, fontweight="bold", ha="center", va="center", color="#333333")
over.text(1231, 1535, "RORyt+/IL-17a+ cells (% of total)", rotation=90, fontsize=26.3, fontweight="bold", ha="center", va="center", color="#333333")

# panel letters
over.text(20, 20, "a", fontsize=30, fontweight="bold", ha="center", va="center", color="black")
over.text(20, 1240, "b", fontsize=30, fontweight="bold", ha="center", va="center", color="black")
over.text(1168, 1240, "c", fontsize=30, fontweight="bold", ha="center", va="center", color="black")

fig.savefig("out.png", dpi=100)
